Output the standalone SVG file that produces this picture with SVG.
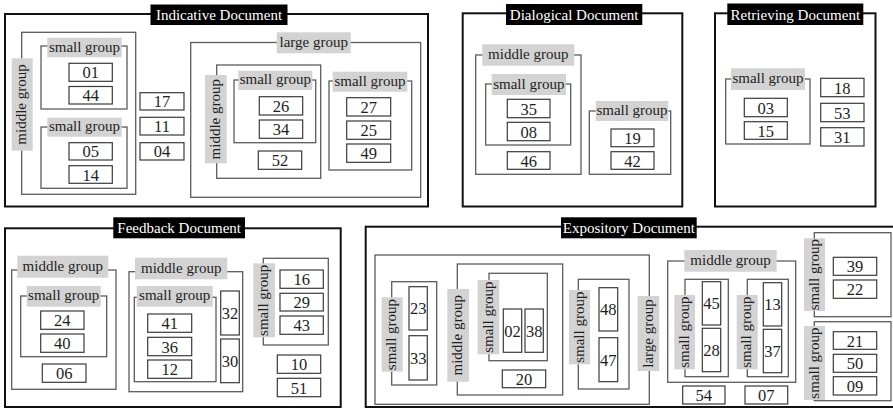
<svg xmlns="http://www.w3.org/2000/svg" width="893" height="409" viewBox="0 0 893 409" font-family="Liberation Serif, Times New Roman, DejaVu Serif, serif">
  <style>
    .frame { fill: none; stroke: #111; stroke-width: 2; }
    .ttl-bg { fill: #000; }
    .ttl { font-family: 'Liberation Serif', 'Times New Roman', serif; font-size: 15px; fill: #fff; text-anchor: middle; }
    .grp { fill: none; stroke: #5c5c5c; stroke-width: 1.3; }
    .lbl { fill: #d3d3d3; }
    .gt { font-family: 'Liberation Serif', 'Times New Roman', serif; font-size: 15px; fill: #1e1e1e; text-anchor: middle; }
    .item rect { fill: #fff; stroke: #3a3a3a; stroke-width: 1.2; }
    .item text { font-family: 'Liberation Serif', 'Times New Roman', serif; font-size: 16.5px; fill: #1e1e1e; text-anchor: middle; }
  </style>
  <rect width="893" height="409" fill="#fff"/>

  <!-- ===== Indicative Document ===== -->
  <g id="indicative-document">
    <rect class="frame" x="5" y="14" width="423" height="192.5"/>
    <rect class="ttl-bg" x="150.5" y="4.5" width="137" height="20.5"/>
    <text class="ttl" x="219" y="20">Indicative Document</text>

    <g id="ind-middle-group">
      <rect class="grp" x="21.7" y="32.3" width="114" height="162"/>
      <rect class="lbl" x="11.7" y="58.3" width="21" height="92.4"/>
      <text class="gt" transform="translate(22.2,104.5) rotate(-90)" y="4">middle group</text>
      <g id="ind-small-group-1">
        <rect class="grp" x="41" y="46" width="86" height="63"/>
        <rect class="lbl" x="47.3" y="37.7" width="74.4" height="19.6"/>
        <text class="gt" x="84.5" y="51.5">small group</text>
        <g id="n01" class="item"><rect x="69" y="63.3" width="43.3" height="18"/><text x="90.7" y="78.3">01</text></g>
        <g id="n44" class="item"><rect x="69" y="86.5" width="43.3" height="17.5"/><text x="90.7" y="101.3">44</text></g>
      </g>
      <g id="ind-small-group-2">
        <rect class="grp" x="41" y="127" width="86" height="61.3"/>
        <rect class="lbl" x="47.3" y="117.7" width="74.4" height="19"/>
        <text class="gt" x="84.5" y="131.2">small group</text>
        <g id="n05" class="item"><rect x="69" y="142.7" width="43.3" height="17.3"/><text x="90.7" y="157.4">05</text></g>
        <g id="n14" class="item"><rect x="69" y="165.7" width="43.3" height="17.6"/><text x="90.7" y="180.5">14</text></g>
      </g>
    </g>
    <g id="n17" class="item"><rect x="140" y="92.7" width="44" height="17.3"/><text x="162" y="107.4">17</text></g>
    <g id="n11" class="item"><rect x="140" y="117.3" width="44" height="17.7"/><text x="162" y="132.2">11</text></g>
    <g id="n04" class="item"><rect x="140" y="142.7" width="44" height="17.3"/><text x="162" y="157.4">04</text></g>

    <g id="ind-large-group">
      <rect class="grp" x="190.7" y="42.5" width="230" height="154.8"/>
      <rect class="lbl" x="276.7" y="32.3" width="74" height="21"/>
      <text class="gt" x="313.7" y="46.8">large group</text>
      <g id="ind-middle-group-2">
        <rect class="grp" x="216.7" y="65" width="104" height="113.3"/>
        <rect class="lbl" x="205" y="75" width="21.7" height="88.3"/>
        <text class="gt" transform="translate(215.9,119.2) rotate(-90)" y="4">middle group</text>
        <g id="ind-small-group-3">
          <rect class="grp" x="234" y="80" width="81.7" height="62.7"/>
          <rect class="lbl" x="238.3" y="70.7" width="74" height="19.3"/>
          <text class="gt" x="275.3" y="84.4">small group</text>
          <g id="n26" class="item"><rect x="259.3" y="96.7" width="43.4" height="18.3"/><text x="281" y="111.9">26</text></g>
          <g id="n34" class="item"><rect x="259.3" y="120" width="43.4" height="18.3"/><text x="281" y="135.2">34</text></g>
        </g>
        <g id="n52" class="item"><rect x="258.3" y="151" width="43.4" height="18.3"/><text x="280" y="166.2">52</text></g>
      </g>
      <g id="ind-small-group-4">
        <rect class="grp" x="329" y="81" width="82.7" height="89"/>
        <rect class="lbl" x="332.7" y="71.7" width="74.6" height="20"/>
        <text class="gt" x="370" y="85.7">small group</text>
        <g id="n27" class="item"><rect x="346.7" y="97.7" width="44" height="18.3"/><text x="368.7" y="112.9">27</text></g>
        <g id="n25" class="item"><rect x="346.7" y="121" width="44" height="18.3"/><text x="368.7" y="136.2">25</text></g>
        <g id="n49" class="item"><rect x="346.7" y="144" width="44" height="18.3"/><text x="368.7" y="159.2">49</text></g>
      </g>
    </g>
  </g>

  <!-- ===== Dialogical Document ===== -->
  <g id="dialogical-document">
    <rect class="frame" x="462.7" y="13.3" width="219.6" height="193.2"/>
    <rect class="ttl-bg" x="506" y="4" width="136.3" height="21"/>
    <text class="ttl" x="574.2" y="19.8">Dialogical Document</text>

    <g id="dia-middle-group">
      <rect class="grp" x="475.7" y="55" width="105.3" height="119.3"/>
      <rect class="lbl" x="482.3" y="44.3" width="92" height="21.4"/>
      <text class="gt" x="528.3" y="59">middle group</text>
      <g id="dia-small-group-1">
        <rect class="grp" x="485.7" y="84" width="85" height="61"/>
        <rect class="lbl" x="491.7" y="74" width="74.3" height="21"/>
        <text class="gt" x="528.8" y="88.5">small group</text>
        <g id="n35" class="item"><rect x="507.3" y="99.3" width="42.7" height="18.4"/><text x="528.7" y="114.5">35</text></g>
        <g id="n08" class="item"><rect x="507.3" y="122.3" width="42.7" height="18.4"/><text x="528.7" y="137.5">08</text></g>
      </g>
      <g id="n46" class="item"><rect x="507.3" y="151.7" width="42.7" height="17.6"/><text x="528.7" y="166.5">46</text></g>
    </g>
    <g id="dia-small-group-2">
      <rect class="grp" x="589.3" y="111" width="81.4" height="63.3"/>
      <rect class="lbl" x="595.7" y="101" width="72.6" height="20"/>
      <text class="gt" x="632" y="115">small group</text>
      <g id="n19" class="item"><rect x="611" y="129" width="43" height="17.7"/><text x="632.5" y="143.9">19</text></g>
      <g id="n42" class="item"><rect x="611" y="151.7" width="43" height="17.6"/><text x="632.5" y="166.5">42</text></g>
    </g>
  </g>

  <!-- ===== Retrieving Document ===== -->
  <g id="retrieving-document">
    <rect class="frame" x="715" y="13.3" width="160.5" height="193.2"/>
    <rect class="ttl-bg" x="727.3" y="3.5" width="136" height="21.5"/>
    <text class="ttl" x="795.3" y="19.5">Retrieving Document</text>

    <g id="ret-small-group">
      <rect class="grp" x="725.7" y="79" width="84.3" height="65"/>
      <rect class="lbl" x="731" y="68.3" width="74" height="21.7"/>
      <text class="gt" x="768" y="83.2">small group</text>
      <g id="n03" class="item"><rect x="744.3" y="98.3" width="43" height="18.4"/><text x="765.8" y="113.5">03</text></g>
      <g id="n15" class="item"><rect x="744.3" y="121.7" width="43" height="17.6"/><text x="765.8" y="136.5">15</text></g>
    </g>
    <g id="n18" class="item"><rect x="820.7" y="78.3" width="43.3" height="18.4"/><text x="842.3" y="93.5">18</text></g>
    <g id="n53" class="item"><rect x="820.7" y="103.3" width="43.3" height="18.4"/><text x="842.3" y="118.5">53</text></g>
    <g id="n31" class="item"><rect x="820.7" y="127.7" width="43.3" height="18.3"/><text x="842.3" y="142.9">31</text></g>
  </g>

  <!-- ===== Feedback Document ===== -->
  <g id="feedback-document">
    <rect class="frame" x="5" y="228.3" width="335.7" height="178.7"/>
    <rect class="ttl-bg" x="113.3" y="217.3" width="131.7" height="21"/>
    <text class="ttl" x="179.2" y="233">Feedback Document</text>

    <g id="fb-middle-group-1">
      <rect class="grp" x="11.7" y="270" width="104.3" height="119.3"/>
      <rect class="lbl" x="17.3" y="255.7" width="91" height="22"/>
      <text class="gt" x="62.8" y="270.7">middle group</text>
      <g id="fb-small-group-1">
        <rect class="grp" x="20.7" y="296" width="86" height="60.7"/>
        <rect class="lbl" x="26.7" y="286" width="74" height="20.7"/>
        <text class="gt" x="63.7" y="300.3">small group</text>
        <g id="n24" class="item"><rect x="40.7" y="311" width="43.3" height="18.3"/><text x="62.3" y="326.2">24</text></g>
        <g id="n40" class="item"><rect x="40.7" y="334" width="43.3" height="18.3"/><text x="62.3" y="349.2">40</text></g>
      </g>
      <g id="n06" class="item"><rect x="42.3" y="364" width="43.7" height="18.3"/><text x="64.2" y="379.2">06</text></g>
    </g>

    <g id="fb-middle-group-2">
      <rect class="grp" x="129" y="271.7" width="113.7" height="120"/>
      <rect class="lbl" x="135" y="257.7" width="92.3" height="21.6"/>
      <text class="gt" x="181.2" y="272.5">middle group</text>
      <g id="fb-small-group-2">
        <rect class="grp" x="134.3" y="297.3" width="81.7" height="84.4"/>
        <rect class="lbl" x="136.7" y="286" width="76" height="20.7"/>
        <text class="gt" x="174.7" y="300.3">small group</text>
        <g id="n41" class="item"><rect x="147.7" y="314" width="44" height="18.3"/><text x="169.7" y="329.2">41</text></g>
        <g id="n36" class="item"><rect x="147.7" y="337.3" width="44" height="18.4"/><text x="169.7" y="352.5">36</text></g>
        <g id="n12" class="item"><rect x="147.7" y="360" width="44" height="18.3"/><text x="169.7" y="375.2">12</text></g>
      </g>
      <g id="n32" class="item"><rect x="220.7" y="291" width="18.6" height="44"/><text x="230" y="319">32</text></g>
      <g id="n30" class="item"><rect x="220.7" y="339" width="18.6" height="43.7"/><text x="230" y="366.9">30</text></g>
    </g>

    <g id="fb-small-group-3">
      <rect class="grp" x="263.3" y="258.3" width="65" height="86.7"/>
      <rect class="lbl" x="253.3" y="263.3" width="21.7" height="74"/>
      <text class="gt" transform="translate(264.2,300.3) rotate(-90)" y="4">small group</text>
      <g id="n16" class="item"><rect x="280" y="270" width="43.3" height="18.3"/><text x="301.7" y="285.2">16</text></g>
      <g id="n29" class="item"><rect x="280" y="293.3" width="43.3" height="17.7"/><text x="301.7" y="308.2">29</text></g>
      <g id="n43" class="item"><rect x="280" y="316" width="43.3" height="18.3"/><text x="301.7" y="331.2">43</text></g>
    </g>
    <g id="n10" class="item"><rect x="277.3" y="355" width="43.4" height="18.3"/><text x="299" y="370.2">10</text></g>
    <g id="n51" class="item"><rect x="277.3" y="378.3" width="43.4" height="18.4"/><text x="299" y="393.5">51</text></g>
  </g>

  <!-- ===== Expository Document ===== -->
  <g id="expository-document">
    <rect class="frame" x="365.7" y="226.7" width="530" height="180.3"/>
    <rect class="ttl-bg" x="561" y="217.3" width="135.7" height="21"/>
    <text class="ttl" x="628.8" y="233">Expository Document</text>

    <g id="exp-large-group">
      <rect class="grp" x="375" y="255" width="274.3" height="149.3"/>
      <rect class="lbl" x="637.7" y="296" width="21.6" height="75"/>
      <text class="gt" transform="translate(648.5,333.5) rotate(-90)" y="4">large group</text>

      <g id="exp-small-group-1">
        <rect class="grp" x="391.7" y="281.7" width="45" height="103.3"/>
        <rect class="lbl" x="381.7" y="297.3" width="21" height="74.4"/>
        <text class="gt" transform="translate(392.2,334.5) rotate(-90)" y="4">small group</text>
        <g id="n23" class="item"><rect x="409" y="286.7" width="18.3" height="43.3"/><text x="418.2" y="314.4">23</text></g>
        <g id="n33" class="item"><rect x="409" y="335.7" width="18.3" height="44.3"/><text x="418.2" y="363.9">33</text></g>
      </g>

      <g id="exp-middle-group-1">
        <rect class="grp" x="457.3" y="264" width="105.4" height="131"/>
        <rect class="lbl" x="447.3" y="289" width="21.7" height="92.7"/>
        <text class="gt" transform="translate(458.2,335.3) rotate(-90)" y="4">middle group</text>
        <g id="exp-small-group-2">
          <rect class="grp" x="489" y="273.3" width="58.3" height="87.4"/>
          <rect class="lbl" x="477.7" y="280" width="21.6" height="74.3"/>
          <text class="gt" transform="translate(488.5,317.2) rotate(-90)" y="4">small group</text>
          <g id="n02" class="item"><rect x="503.3" y="309" width="18.4" height="43.3"/><text x="512.5" y="336.7">02</text></g>
          <g id="n38" class="item"><rect x="525" y="309" width="18.3" height="43.3"/><text x="534.2" y="336.7">38</text></g>
        </g>
        <g id="n20" class="item"><rect x="502.3" y="370" width="43.4" height="17.7"/><text x="524" y="384.9">20</text></g>
      </g>

      <g id="exp-small-group-3">
        <rect class="grp" x="578.3" y="279.3" width="50.7" height="109.7"/>
        <rect class="lbl" x="569" y="290" width="21" height="74.3"/>
        <text class="gt" transform="translate(579.5,327.2) rotate(-90)" y="4">small group</text>
        <g id="n48" class="item"><rect x="599" y="287.7" width="18.7" height="43.3"/><text x="608.3" y="315.4">48</text></g>
        <g id="n47" class="item"><rect x="599" y="337.7" width="18.7" height="44"/><text x="608.3" y="365.7">47</text></g>
      </g>
    </g>

    <g id="exp-middle-group-2">
      <rect class="grp" x="667.7" y="261" width="128" height="121.3"/>
      <rect class="lbl" x="684.3" y="250" width="92.4" height="21.7"/>
      <text class="gt" x="730.5" y="264.8">middle group</text>
      <g id="exp-small-group-4">
        <rect class="grp" x="685" y="279.3" width="43.3" height="97.4"/>
        <rect class="lbl" x="674.3" y="295" width="20.7" height="74.3"/>
        <text class="gt" transform="translate(684.7,332.2) rotate(-90)" y="4">small group</text>
        <g id="n45" class="item"><rect x="702.3" y="281.7" width="18.4" height="43.3"/><text x="711.5" y="309.4">45</text></g>
        <g id="n28" class="item"><rect x="702.3" y="328.3" width="18.4" height="43.4"/><text x="711.5" y="356">28</text></g>
      </g>
      <g id="exp-small-group-5">
        <rect class="grp" x="747.3" y="279.3" width="41" height="97.4"/>
        <rect class="lbl" x="736.7" y="295" width="21" height="74.3"/>
        <text class="gt" transform="translate(747.2,332.2) rotate(-90)" y="4">small group</text>
        <g id="n13" class="item"><rect x="763.3" y="282.7" width="18.4" height="43.3"/><text x="772.5" y="310.4">13</text></g>
        <g id="n37" class="item"><rect x="763.3" y="329.3" width="18.4" height="43.4"/><text x="772.5" y="357">37</text></g>
      </g>
    </g>
    <g id="n54" class="item"><rect x="682.7" y="386" width="42.3" height="18"/><text x="703.8" y="401">54</text></g>
    <g id="n07" class="item"><rect x="745" y="386" width="42.7" height="18"/><text x="766.3" y="401">07</text></g>

    <g id="exp-small-group-6">
      <rect class="grp" x="814.3" y="232.7" width="76.7" height="84"/>
      <rect class="lbl" x="804" y="238.3" width="21" height="72.7"/>
      <text class="gt" transform="translate(814.5,274.7) rotate(-90)" y="4">small group</text>
      <g id="n39" class="item"><rect x="833.3" y="257.3" width="43.4" height="18"/><text x="855" y="272.3">39</text></g>
      <g id="n22" class="item"><rect x="833.3" y="280" width="43.4" height="18.3"/><text x="855" y="295.2">22</text></g>
    </g>
    <g id="exp-small-group-7">
      <rect class="grp" x="814.3" y="321.7" width="76.7" height="79"/>
      <rect class="lbl" x="804" y="326" width="21" height="74"/>
      <text class="gt" transform="translate(814.5,363) rotate(-90)" y="4">small group</text>
      <g id="n21" class="item"><rect x="833.3" y="331.7" width="43.4" height="17.6"/><text x="855" y="346.5">21</text></g>
      <g id="n50" class="item"><rect x="833.3" y="354.3" width="43.4" height="18"/><text x="855" y="369.3">50</text></g>
      <g id="n09" class="item"><rect x="833.3" y="376.7" width="43.4" height="18.3"/><text x="855" y="391.9">09</text></g>
    </g>
  </g>
</svg>
